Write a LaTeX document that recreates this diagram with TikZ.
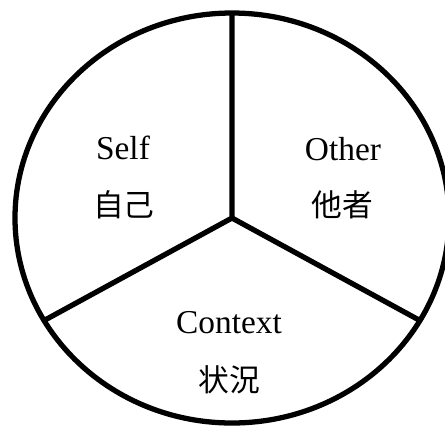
\documentclass[tikz,border=0pt]{standalone}
\usepackage{fontspec}
\setmainfont{Liberation Serif}
\newfontfamily\jpfont{Noto Sans CJK JP}
\tikzset{
  rim/.style={line width=3pt,line join=miter},
  en/.style={font=\fontsize{19}{22}\selectfont},
  jp/.style={font=\jpfont\fontsize{17.5}{20}\selectfont}
}

\begin{document}
\begin{tikzpicture}
  \useasboundingbox (-4.64,-4.2) rectangle (4.26,4.36);
  \coordinate (ctr) at (0,0);
  \coordinate (top) at (90:4.34cm and 4.1cm);
  \coordinate (lft) at (210:4.34cm and 4.1cm);
  \coordinate (rgt) at (330:4.34cm and 4.1cm);
  \draw[rim] (ctr) ellipse [x radius=4.34,y radius=4.1];
  \draw[rim] (top) -- (ctr) -- (lft);
  \draw[rim] (ctr) -- (rgt);
  \node[en] (self) at (-2.18,1.40) {Self};
  \node[jp] (selfjp) at (-2.16,0.26) {自己};
  \node[en] (other) at (2.22,1.38) {Other};
  \node[jp] (otherjp) at (2.20,0.26) {他者};
  \node[en] (context) at (-0.06,-2.10) {Context};
  \node[jp] (contextjp) at (-0.06,-3.24) {状況};
\end{tikzpicture}
\end{document}
